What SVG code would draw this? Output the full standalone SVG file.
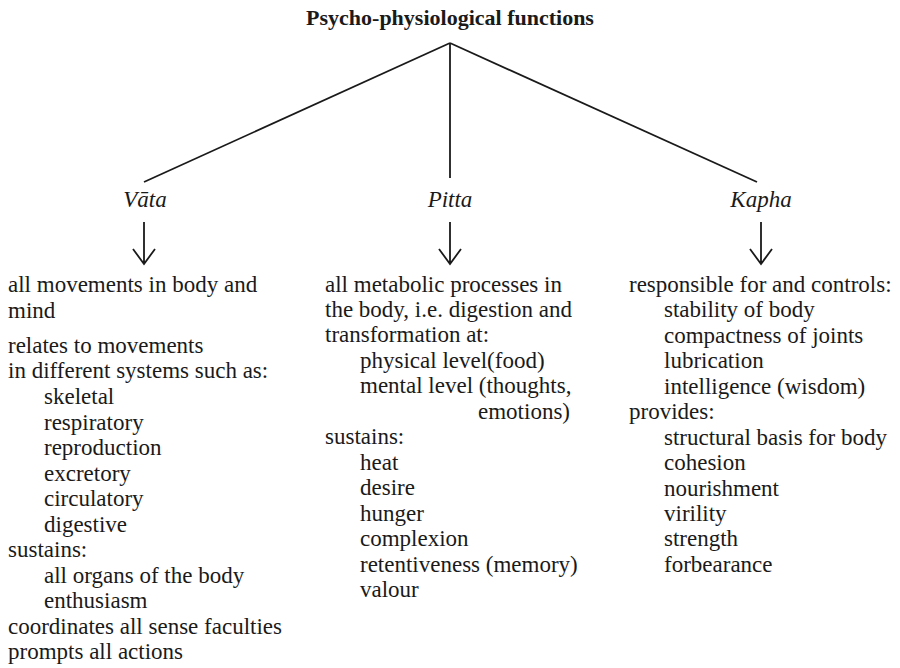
<svg xmlns="http://www.w3.org/2000/svg" width="900" height="668" viewBox="0 0 900 668">
<style>
.t{font-family:"Liberation Serif","Times New Roman",serif;font-size:23px;fill:#1a1a1a}
.title{font-family:"Liberation Serif","Times New Roman",serif;font-size:22px;font-weight:bold;fill:#1a1a1a}
.h{font-family:"Liberation Serif","Times New Roman",serif;font-size:23px;font-style:italic;fill:#1a1a1a}
.ln{stroke:#1a1a1a;stroke-width:1.8;fill:none}
</style>
<rect width="900" height="668" fill="#fff"/>
<g id="title"><text class="title" x="450" y="25" text-anchor="middle">Psycho-physiological functions</text></g>
<g id="connectors">
<path class="ln" d="M450,43 L144,182"/>
<path class="ln" d="M450,43 L450,178"/>
<path class="ln" d="M450,43 L757,182"/>
<path class="ln" d="M144,222 L144,264 M133,249 L144,264 L155,249"/>
<path class="ln" d="M450,222 L450,264 M439,249 L450,264 L461,249"/>
<path class="ln" d="M761,222 L761,264 M750,249 L761,264 L772,249"/>
</g>
<g id="vata">
<text class="h" x="145" y="207" text-anchor="middle">Vāta</text>
<text class="t" x="8" y="292">all movements in body and</text>
<text class="t" x="8" y="318">mind</text>
<text class="t" x="8" y="353">relates to movements</text>
<text class="t" x="8" y="378">in different systems such as:</text>
<text class="t" x="44" y="404">skeletal</text>
<text class="t" x="44" y="430">respiratory</text>
<text class="t" x="44" y="455">reproduction</text>
<text class="t" x="44" y="481">excretory</text>
<text class="t" x="44" y="506">circulatory</text>
<text class="t" x="44" y="532">digestive</text>
<text class="t" x="8" y="557">sustains:</text>
<text class="t" x="44" y="583">all organs of the body</text>
<text class="t" x="44" y="608">enthusiasm</text>
<text class="t" x="8" y="634">coordinates all sense faculties</text>
<text class="t" x="8" y="659">prompts all actions</text>
</g>
<g id="pitta">
<text class="h" x="450" y="207" text-anchor="middle">Pitta</text>
<text class="t" x="325" y="292">all metabolic processes in</text>
<text class="t" x="325" y="317">the body, i.e. digestion and</text>
<text class="t" x="325" y="342">transformation at:</text>
<text class="t" x="360" y="368">physical level(food)</text>
<text class="t" x="360" y="393">mental level (thoughts,</text>
<text class="t" x="570" y="419" text-anchor="end">emotions)</text>
<text class="t" x="325" y="444">sustains:</text>
<text class="t" x="360" y="470">heat</text>
<text class="t" x="360" y="495">desire</text>
<text class="t" x="360" y="521">hunger</text>
<text class="t" x="360" y="546">complexion</text>
<text class="t" x="360" y="572">retentiveness (memory)</text>
<text class="t" x="360" y="597">valour</text>
</g>
<g id="kapha">
<text class="h" x="761" y="207" text-anchor="middle">Kapha</text>
<text class="t" x="629" y="292">responsible for and controls:</text>
<text class="t" x="664" y="317">stability of body</text>
<text class="t" x="664" y="343">compactness of joints</text>
<text class="t" x="664" y="368">lubrication</text>
<text class="t" x="664" y="394">intelligence (wisdom)</text>
<text class="t" x="629" y="419">provides:</text>
<text class="t" x="664" y="445">structural basis for body</text>
<text class="t" x="664" y="470">cohesion</text>
<text class="t" x="664" y="496">nourishment</text>
<text class="t" x="664" y="521">virility</text>
<text class="t" x="664" y="546">strength</text>
<text class="t" x="664" y="572">forbearance</text>
</g>
</svg>
